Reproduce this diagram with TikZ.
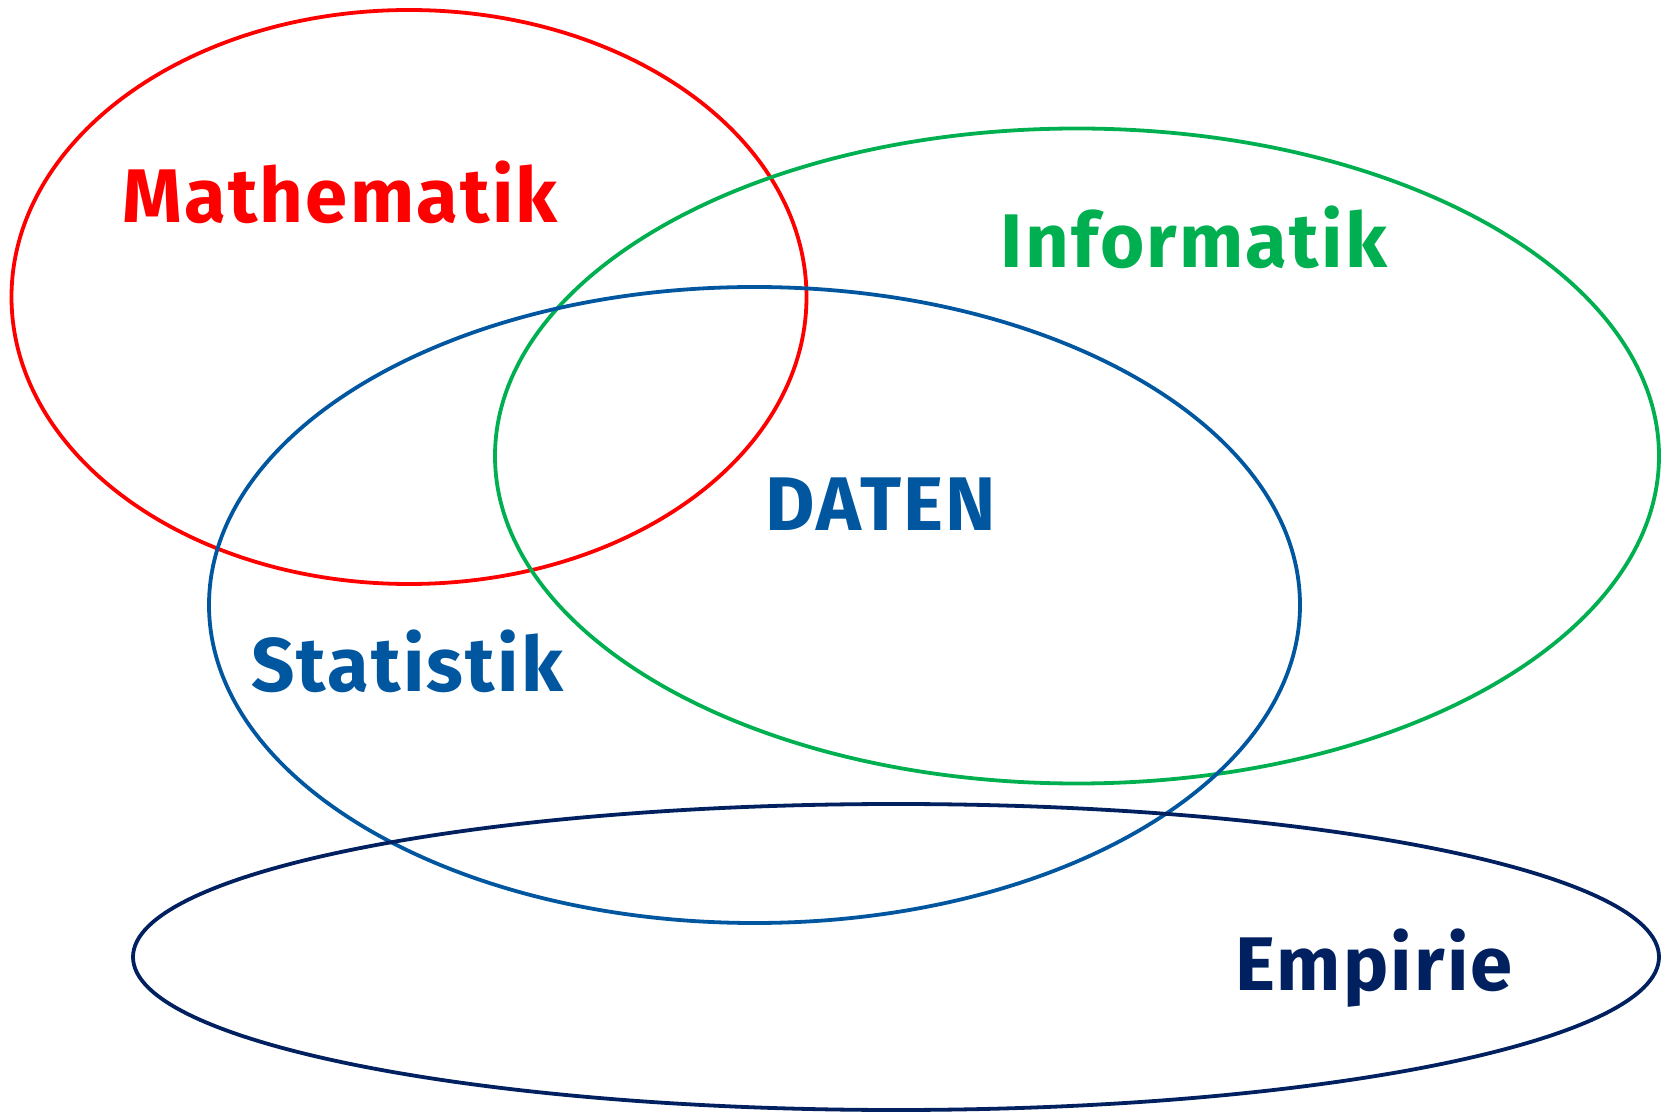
\documentclass[tikz,border=0pt]{standalone}
\usepackage{fontspec}
\setmainfont{Fira Sans}[LetterSpace=3]
\usepackage{tikz}

\definecolor{mathred}{RGB}{255,0,0}
\definecolor{infgreen}{RGB}{0,176,80}
\definecolor{datblue}{RGB}{0,87,160}
\definecolor{empnavy}{RGB}{0,32,96}

\tikzset{
  set/.style={line width=1.9pt},
  label/.style={anchor=base, inner sep=0pt, font=\fontsize{38}{46}\selectfont\bfseries}
}

\begin{document}
\begin{tikzpicture}[x=0.5pt, y=-0.5pt]
  \useasboundingbox (0,0) rectangle (1662,1112);

  % the four fields
  \draw[set, mathred]  (409,297)  ellipse [x radius=397.5, y radius=287];
  \draw[set, infgreen] (1077,456) ellipse [x radius=582, y radius=327.5];
  \draw[set, datblue]  (754.5,605) ellipse [x radius=545.5, y radius=318];
  \draw[set, empnavy]  (896,957)  ellipse [x radius=763, y radius=153];

  % labels
  \node[label, mathred]  (math) at (340,223)  {Mathematik};
  \node[label, infgreen] (inf)  at (1194,268) {Informatik};
  \node[label, datblue]  (dat)  at (881,531)  {DATEN};
  \node[label, datblue]  (stat) at (407,692)  {Statistik};
  \node[label, empnavy]  (emp)  at (1374,990) {Empirie};
\end{tikzpicture}
\end{document}
